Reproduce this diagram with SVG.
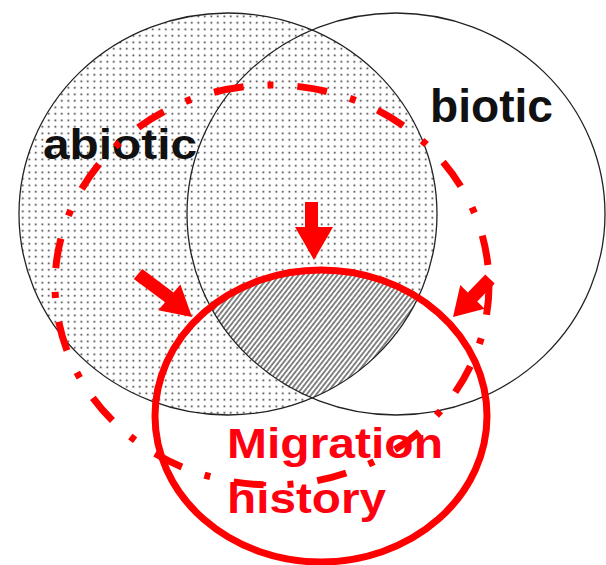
<svg xmlns="http://www.w3.org/2000/svg" width="606" height="565" viewBox="0 0 606 565">
<style>
.outline{fill:none;stroke:#222;stroke-width:1.3}
.lbl{font-family:"Liberation Sans",Arial,sans-serif;font-weight:bold}
.red{fill:none;stroke:#ff0000;stroke-width:7}
.arrow{fill:#ff0000;stroke:none}
</style>
<defs>
<pattern id="dots" patternUnits="userSpaceOnUse" width="6.5" height="6.5">
<rect x="2.5" y="2.5" width="1.6" height="1.6" fill="#222"/>
</pattern>
<pattern id="hatch" patternUnits="userSpaceOnUse" width="3.8" height="10" patternTransform="rotate(38)">
<line x1="1.9" y1="0" x2="1.9" y2="10" stroke="#222" stroke-width="1.1"/>
</pattern>
<clipPath id="clipA"><ellipse cx="228" cy="214" rx="209" ry="201"/></clipPath>
<clipPath id="clipB"><ellipse cx="396" cy="214" rx="209" ry="201"/></clipPath>
<clipPath id="clipM"><ellipse cx="321" cy="416" rx="166" ry="146"/></clipPath>
</defs>
<rect width="606" height="565" fill="#fff"/>
<g id="abiotic">
<ellipse cx="228" cy="214" rx="209" ry="201" fill="url(#dots)"/>
</g>
<g id="overlap">
<g clip-path="url(#clipA)"><g clip-path="url(#clipB)"><g clip-path="url(#clipM)">
<rect x="150" y="250" width="320" height="170" fill="#fff"/>
<rect x="150" y="250" width="320" height="170" fill="url(#hatch)"/>
</g></g></g>
</g>
<g id="abiotic-outline">
<ellipse class="outline" cx="228" cy="214" rx="209" ry="201"/>
<text class="lbl" x="43" y="159" font-size="43" textLength="154" lengthAdjust="spacingAndGlyphs" fill="#111">abiotic</text>
</g>
<g id="biotic">
<ellipse class="outline" cx="396" cy="214" rx="209" ry="201"/>
<text class="lbl" x="430" y="122" font-size="46" textLength="123" lengthAdjust="spacingAndGlyphs" fill="#111">biotic</text>
</g>
<g id="migration-history">
<ellipse class="red" cx="321" cy="416" rx="166" ry="146"/>
<text class="lbl" x="227" y="458" font-size="43" textLength="216" lengthAdjust="spacingAndGlyphs" fill="#ff0010">Migration</text>
<text class="lbl" x="227" y="513" font-size="43" textLength="159" lengthAdjust="spacingAndGlyphs" fill="#ff0010">history</text>
</g>
<g id="connectors">
<polygon class="arrow" points="305,202 318,202 318,227 333,227 314,260 295,227 305,227"/>
<polygon class="arrow" points="133.8,278.9 142.3,269.1 173.5,292.5 180.4,284.5 192,317 158.2,310.3 165.1,302.3"/>
<polygon class="arrow" points="485.3,274.5 494.7,283.5 477.2,301.4 484.7,308.8 453,317 460.3,285.1 467.8,292.4"/>
</g>
<g id="scope">
<ellipse cx="272" cy="285" rx="217" ry="200" fill="none" stroke="#ff0000" stroke-width="7" stroke-dasharray="30 24 6 24"/>
</g>
</svg>
